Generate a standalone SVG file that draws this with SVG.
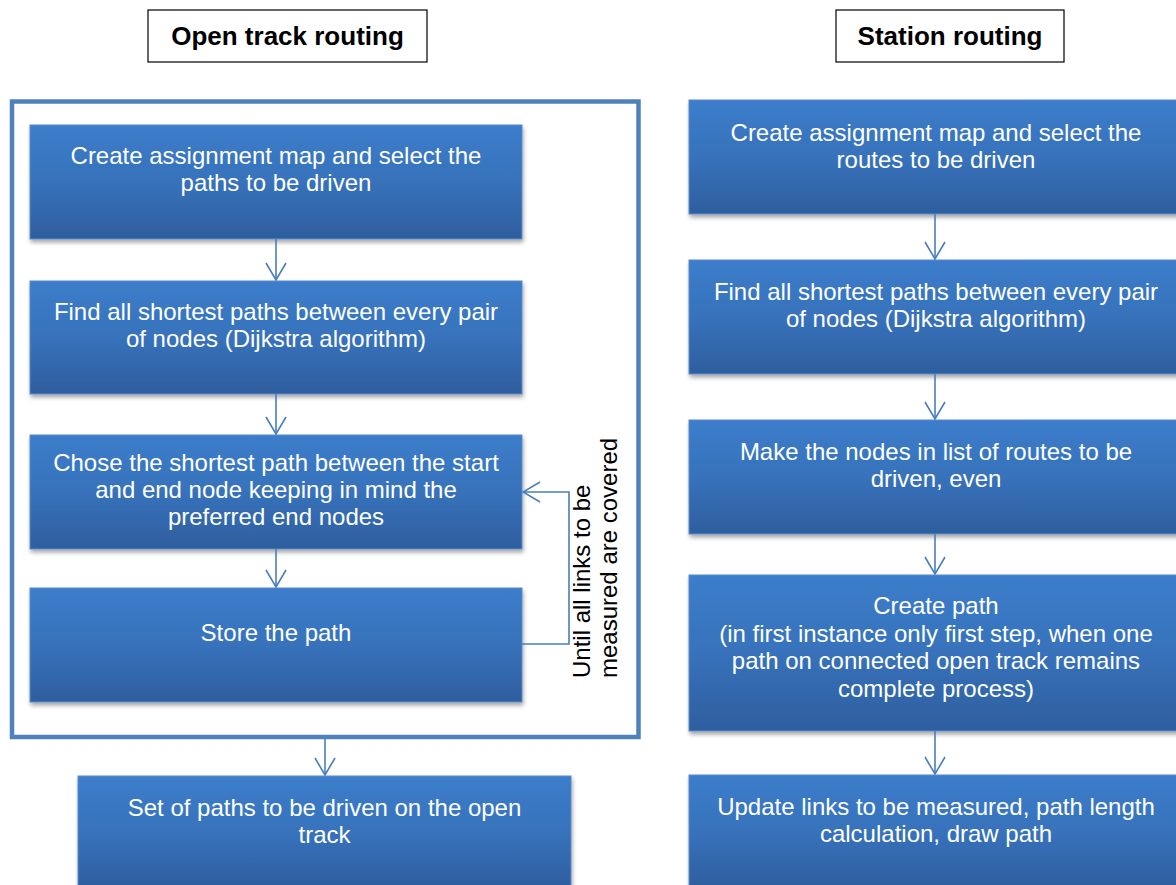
<svg xmlns="http://www.w3.org/2000/svg" width="1176" height="885" viewBox="0 0 1176 885">
  <defs>
    <linearGradient id="boxFill" x1="0" y1="0" x2="0" y2="1">
      <stop offset="0" stop-color="#3c7dcb"/>
      <stop offset="0.5" stop-color="#3772bb"/>
      <stop offset="1" stop-color="#2e5e9e"/>
    </linearGradient>
    <filter id="shadow" x="-5%" y="-5%" width="115%" height="125%">
      <feGaussianBlur in="SourceAlpha" stdDeviation="2"/>
      <feOffset dx="1" dy="3" result="blur"/>
      <feComponentTransfer><feFuncA type="linear" slope="0.35"/></feComponentTransfer>
      <feMerge><feMergeNode/><feMergeNode in="SourceGraphic"/></feMerge>
    </filter>
    <marker id="open" viewBox="0 0 19 22" refX="18" refY="11" markerWidth="19" markerHeight="22" markerUnits="userSpaceOnUse" orient="auto">
      <path d="M1,1 L18,11 L1,21" fill="none" stroke="#4a7ebb" stroke-width="1.6"/>
    </marker>
  </defs>
  <style>
    .box { fill: url(#boxFill); stroke: #5a8ccb; stroke-width: 1; filter: url(#shadow); }
    .lbl { font-family: "Liberation Sans", Arial, sans-serif; font-size: 24px; fill: #ffffff; text-anchor: middle; }
    .title-box { fill: #ffffff; stroke: #000000; stroke-width: 1.2; }
    .title { font-family: "Liberation Sans", Arial, sans-serif; font-size: 26px; font-weight: bold; fill: #000000; text-anchor: middle; }
    .note { font-family: "Liberation Sans", Arial, sans-serif; font-size: 24px; fill: #000000; }
    .conn { fill: none; stroke: #4a7ebb; stroke-width: 1.6; marker-end: url(#open); }
    .frame { fill: #ffffff; stroke: #4f81bd; stroke-width: 4.5; }
  </style>

  <rect width="1176" height="885" fill="#ffffff"/>

  <!-- column headings -->
  <g id="title-open">
    <rect class="title-box" x="148" y="10" width="279" height="52"/>
    <text class="title" x="287.5" y="45">Open track routing</text>
  </g>
  <g id="title-station">
    <rect class="title-box" x="836" y="10" width="228" height="52"/>
    <text class="title" x="950" y="45">Station routing</text>
  </g>

  <!-- loop frame around the open-track steps -->
  <g id="loop-frame">
    <rect class="frame" x="12" y="101.5" width="626.5" height="635.5"/>
  </g>

  <!-- open track routing steps -->
  <g id="o1">
    <rect class="box" x="30" y="125" width="492" height="114"/>
    <text class="lbl" x="276" y="164">Create assignment map and select the</text>
    <text class="lbl" x="276" y="191">paths to be driven</text>
  </g>
  <g id="o2">
    <rect class="box" x="30" y="281" width="492" height="113"/>
    <text class="lbl" x="276" y="320">Find all shortest paths between every pair</text>
    <text class="lbl" x="276" y="347">of nodes (Dijkstra algorithm)</text>
  </g>
  <g id="o3">
    <rect class="box" x="30" y="435" width="492" height="114"/>
    <text class="lbl" x="276" y="471">Chose the shortest path between the start</text>
    <text class="lbl" x="276" y="498">and end node keeping in mind the</text>
    <text class="lbl" x="276" y="525">preferred end nodes</text>
  </g>
  <g id="o4">
    <rect class="box" x="30" y="588" width="492" height="114"/>
    <text class="lbl" x="276" y="641">Store the path</text>
  </g>
  <g id="o5">
    <rect class="box" x="78" y="776" width="493" height="114"/>
    <text class="lbl" x="324.5" y="816">Set of paths to be driven on the open</text>
    <text class="lbl" x="324.5" y="843">track</text>
  </g>

  <!-- station routing steps -->
  <g id="s1">
    <rect class="box" x="689" y="100" width="494" height="114"/>
    <text class="lbl" x="936" y="141">Create assignment map and select the</text>
    <text class="lbl" x="936" y="168">routes to be driven</text>
  </g>
  <g id="s2">
    <rect class="box" x="689" y="260" width="494" height="114"/>
    <text class="lbl" x="936" y="300">Find all shortest paths between every pair</text>
    <text class="lbl" x="936" y="327">of nodes (Dijkstra algorithm)</text>
  </g>
  <g id="s3">
    <rect class="box" x="689" y="420" width="494" height="114"/>
    <text class="lbl" x="936" y="460">Make the nodes in list of routes to be</text>
    <text class="lbl" x="936" y="487">driven, even</text>
  </g>
  <g id="s4">
    <rect class="box" x="689" y="575" width="494" height="156"/>
    <text class="lbl" x="936" y="614">Create path</text>
    <text class="lbl" x="936" y="642">(in first instance only first step, when one</text>
    <text class="lbl" x="936" y="669">path on connected open track remains</text>
    <text class="lbl" x="936" y="697">complete process)</text>
  </g>
  <g id="s5">
    <rect class="box" x="689" y="775" width="494" height="114"/>
    <text class="lbl" x="936" y="815">Update links to be measured, path length</text>
    <text class="lbl" x="936" y="842">calculation, draw path</text>
  </g>

  <!-- loop condition label -->
  <g id="loop-label">
    <text class="note" transform="translate(590,678) rotate(-90)">Until all links to be</text>
    <text class="note" transform="translate(617,678) rotate(-90)">measured are covered</text>
  </g>

  <!-- connectors -->
  <g id="connectors">
    <path class="conn" d="M276,239 V280"/>
    <path class="conn" d="M276,394 V434"/>
    <path class="conn" d="M276,549 V587"/>
    <path class="conn" d="M522,644 H569 V492 H523"/>
    <path class="conn" d="M325,739 V775"/>
    <path class="conn" d="M935,214 V259"/>
    <path class="conn" d="M935,374 V419"/>
    <path class="conn" d="M935,534 V574"/>
    <path class="conn" d="M935,731 V774"/>
  </g>
</svg>
